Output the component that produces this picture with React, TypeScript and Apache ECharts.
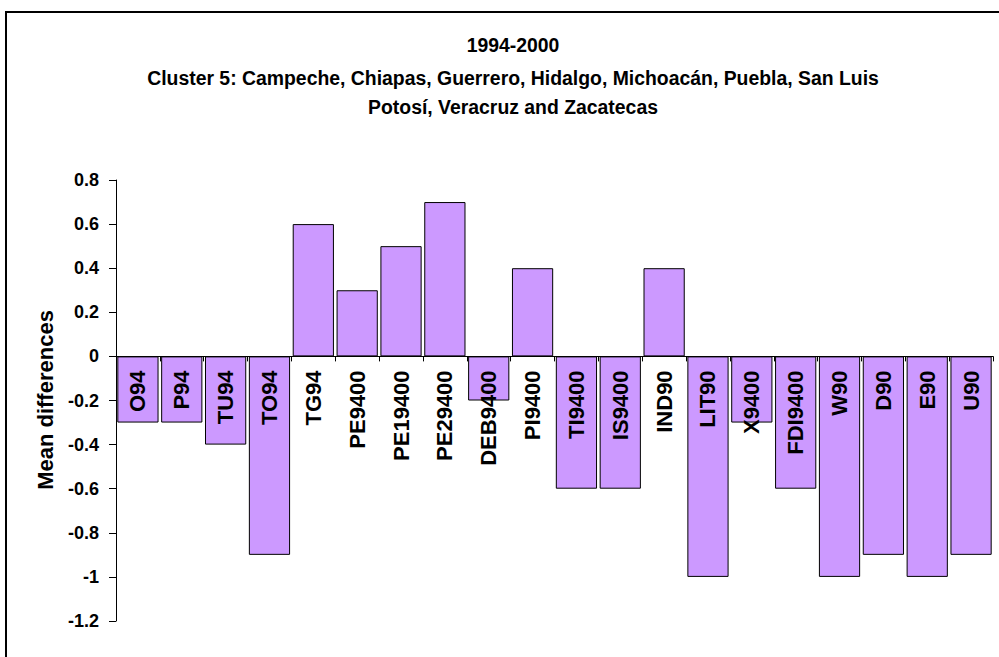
import React, { useEffect, useRef } from "react";
import * as echarts from "echarts";

const categories = [
  "O94", "P94", "TU94", "TO94", "TG94", "PE9400", "PE19400", "PE29400",
  "DEB9400", "PI9400", "TI9400", "IS9400", "IND90", "LIT90", "X9400",
  "FDI9400", "W90", "D90", "E90", "U90",
];
const meanDifferences = [
  -0.3, -0.3, -0.4, -0.9, 0.6, 0.3, 0.5, 0.7,
  -0.2, 0.4, -0.6, -0.6, 0.4, -1, -0.3,
  -0.6, -1, -0.9, -1, -0.9,
];
const titleLines = [
  "1994-2000",
  "Cluster 5: Campeche, Chiapas, Guerrero, Hidalgo, Michoacán, Puebla, San Luis",
  "Potosí, Veracruz and Zacatecas",
];
const yAxisName = "Mean differences";
const yMin = -1.2;
const yMax = 0.8;
const yStep = 0.2;

const FONT = "'Liberation Sans', Arial, sans-serif";

export default function App() {
  const ref = useRef<HTMLDivElement>(null);
  useEffect(() => {
    if (!ref.current) return;
    const chart = echarts.init(ref.current, null, { renderer: "svg" });
    const titleY = [45, 78, 107];
    const gridTop = 180;
    const gridBottom = 36;
    const gridHeight = 657 - gridTop - gridBottom;
    const zeroOffset = -(gridHeight * (0 - yMin)) / (yMax - yMin);
    chart.setOption({
      animation: false,
      backgroundColor: "#ffffff",
      grid: {
        left: 116,
        right: 6,
        top: gridTop,
        bottom: gridBottom,
        containLabel: false,
        outerBoundsMode: "none",
      },
      graphic: [
        {
          type: "rect",
          shape: { x: 6, y: 12, width: 1200, height: 900 },
          style: { fill: "none", stroke: "#000", lineWidth: 2 },
          silent: true,
        },
        ...titleLines.map((t, i) => ({
          type: "text",
          x: 513,
          y: titleY[i],
          style: {
            text: t,
            fill: "#000",
            font: `bold 19.4px ${FONT}`,
            textAlign: "center",
            textVerticalAlign: "middle",
          },
        })),
        {
          type: "text",
          x: 45,
          y: 400,
          rotation: Math.PI / 2,
          style: {
            text: yAxisName,
            fill: "#000",
            font: `bold 22px ${FONT}`,
            textAlign: "center",
            textVerticalAlign: "middle",
          },
        },
      ],
      xAxis: {
        type: "category",
        data: categories,
        offset: zeroOffset,
        axisLine: { onZero: false, lineStyle: { color: "#000", width: 1 } },
        axisTick: { show: true, length: 5, lineStyle: { color: "#000" } },
        axisLabel: {
          interval: 0,
          rotate: 90,
          margin: 14,
          color: "#000",
          fontFamily: FONT,
          fontWeight: "bold",
          fontSize: 22,
        },
        splitLine: { show: false },
        z: 5,
      },
      yAxis: {
        type: "value",
        min: yMin,
        max: yMax,
        interval: yStep,
        axisLine: { show: true, lineStyle: { color: "#000", width: 1 } },
        axisTick: { show: true, length: 7, lineStyle: { color: "#000" } },
        axisLabel: {
          margin: 17,
          color: "#000",
          fontFamily: FONT,
          fontWeight: "bold",
          fontSize: 18,
        },
        splitLine: { show: false },
      },
      series: [
        {
          type: "bar",
          data: meanDifferences,
          barCategoryGap: "6%",
          z: 2,
          itemStyle: { color: "#CC99FF", borderColor: "#000", borderWidth: 1 },
        },
      ],
    });
    return () => chart.dispose();
  }, []);
  return (
    <div
      ref={ref}
      style={{ position: "fixed", left: 0, top: 0, width: 999, height: 657 }}
    />
  );
}
